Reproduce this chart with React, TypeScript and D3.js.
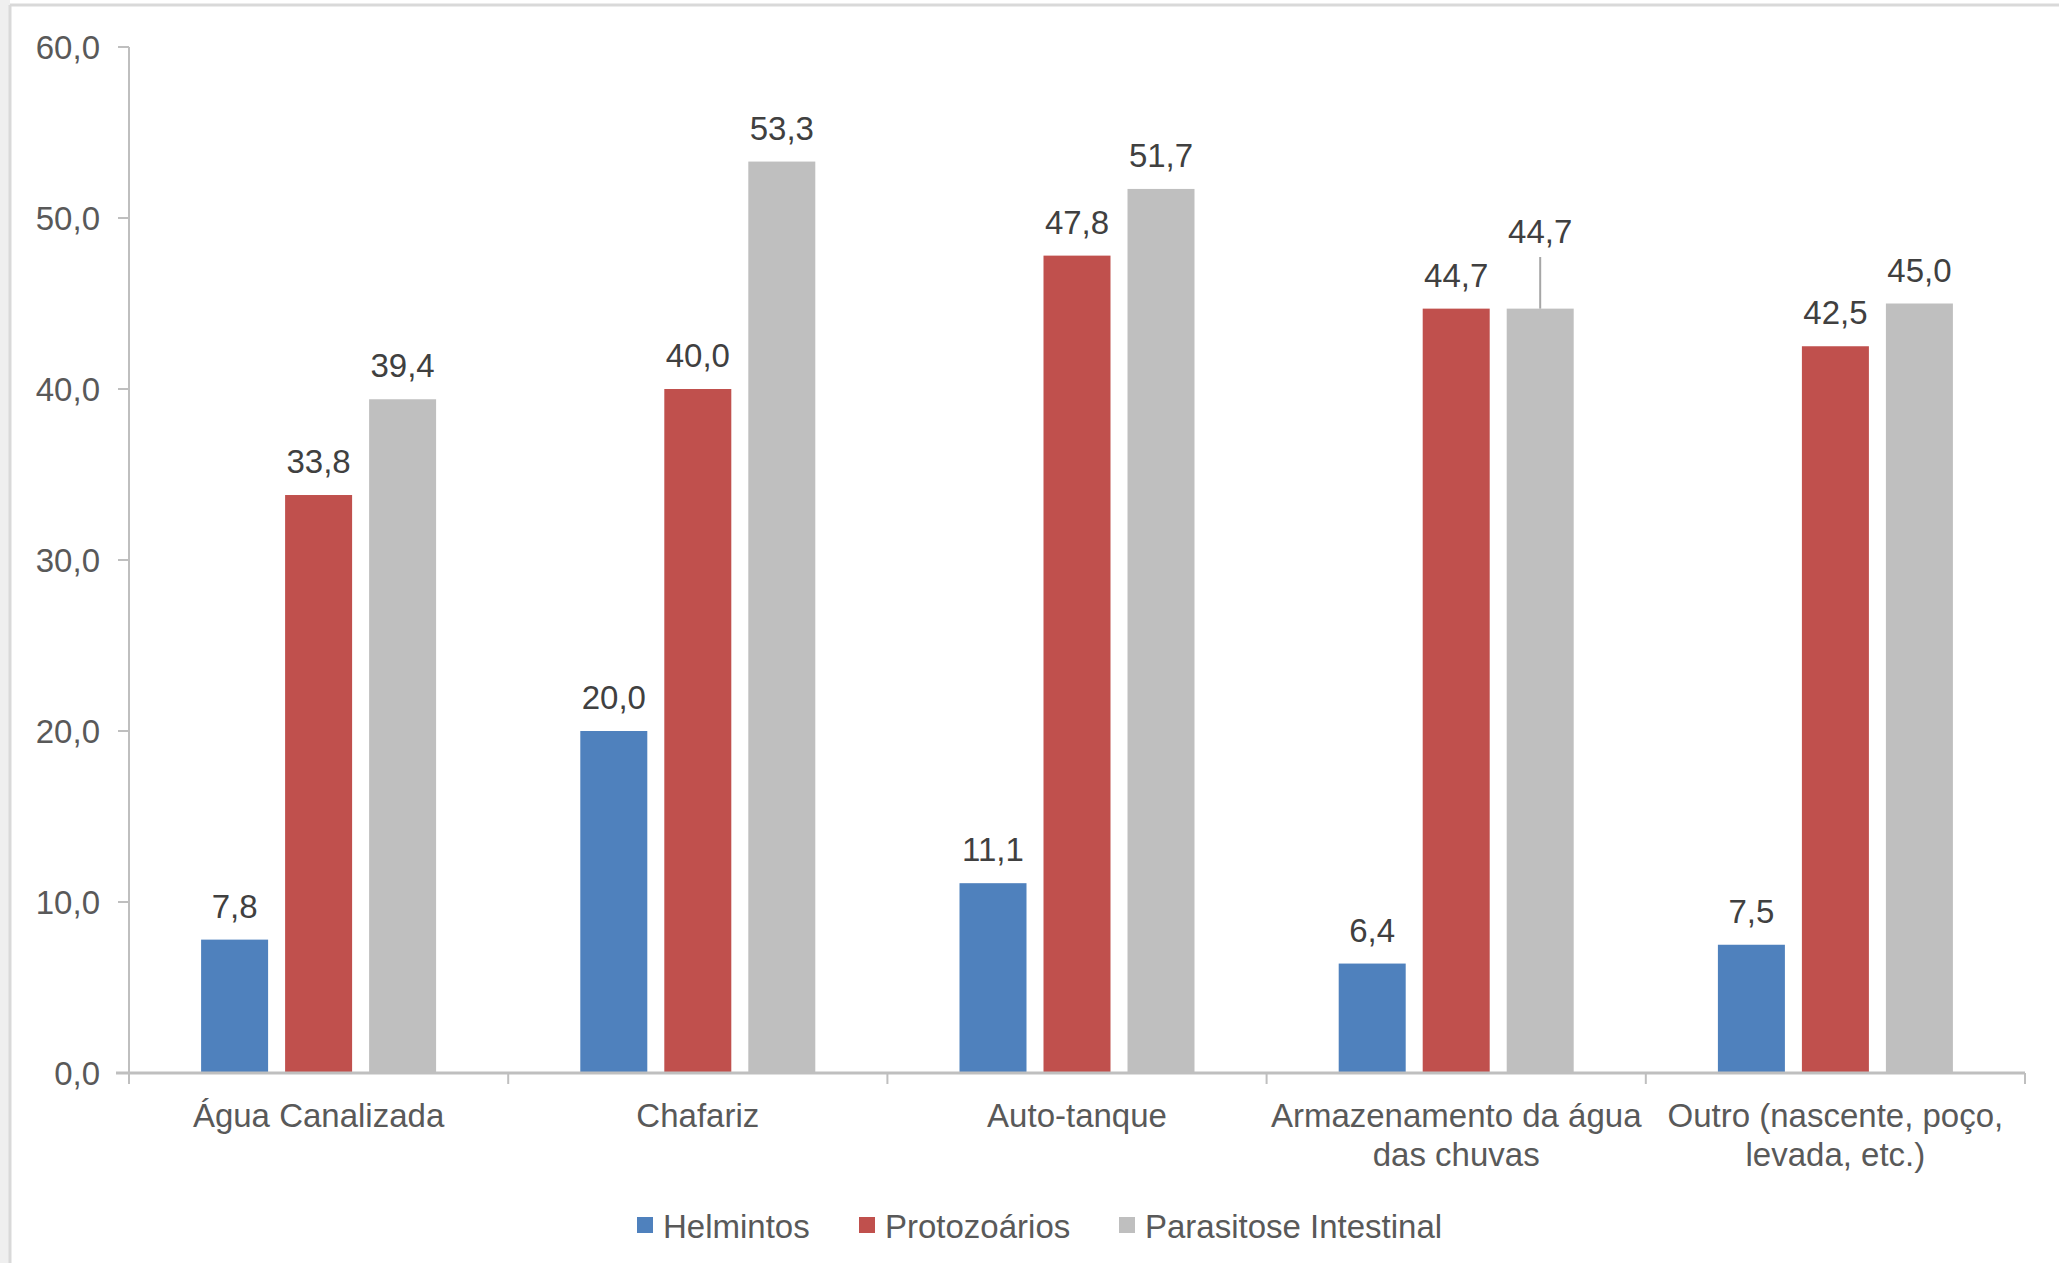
import React from "react";
import * as d3 from "d3";

const categories = [
  ["Água Canalizada"],
  ["Chafariz"],
  ["Auto-tanque"],
  ["Armazenamento da água", "das chuvas"],
  ["Outro (nascente, poço,", "levada, etc.)"],
];
const seriesNames = ["Helmintos", "Protozoários", "Parasitose Intestinal"];
const helmintos = [7.8, 20.0, 11.1, 6.4, 7.5];
const protozoarios = [33.8, 40.0, 47.8, 44.7, 42.5];
const parasitose = [39.4, 53.3, 51.7, 44.7, 45.0];
const yTicks = [0, 10, 20, 30, 40, 50, 60];
const colors = ["#4F81BD", "#C0504D", "#BFBFBF"];

const W = 2059;
const H = 1263;
const left = 129;
const right = 2025;
const top = 47;
const bottom = 1073;
const font = "'Liberation Sans', Arial, sans-serif";
const fs = 33;

export default function App() {
  const series = [helmintos, protozoarios, parasitose];
  const idx = categories.map((_, i) => i);
  const x = d3.scaleBand<number>().domain(idx).range([left, right]).paddingInner(0).paddingOuter(0);
  const y = d3.scaleLinear().domain([0, 60]).range([bottom, top]);
  const bw = 67;
  const step = 84;
  const groupW = bw * 3 + (step - bw) * 2;
  const fmt = (v: number) => v.toFixed(1).replace(".", ",");

  return (
    <svg width={W} height={H} style={{ position: "absolute", left: 0, top: 0, background: "#fff" }}>
      <rect x={0} y={0} width={10} height={H} fill="#efefef" />
      <line x1={10} y1={5} x2={W} y2={5} stroke="#d9d9d9" strokeWidth={3} />
      <line x1={10} y1={5} x2={10} y2={H} stroke="#d9d9d9" strokeWidth={3} />
      {/* y axis */}
      <line x1={left} x2={left} y1={top} y2={bottom} stroke="#BFBFBF" strokeWidth={2} />
      {yTicks.map((t) => (
        <g key={t}>
          <line x1={left - 11} x2={left} y1={y(t)} y2={y(t)} stroke="#BFBFBF" strokeWidth={2} />
          <text x={100} y={y(t)} dy="0.35em" textAnchor="end" fontFamily={font} fontSize={fs} fill="#595959">
            {fmt(t)}
          </text>
        </g>
      ))}
      {/* bars */}
      {series.map((vals, s) =>
        vals.map((v, i) => {
          const x0 = (x(i) as number) + (x.bandwidth() - groupW) / 2 + s * step;
          return <rect key={`${s}-${i}`} x={x0} y={y(v)} width={bw} height={bottom - y(v)} fill={colors[s]} />;
        })
      )}
      {/* x axis */}
      <line x1={left - 13} x2={right} y1={bottom} y2={bottom} stroke="#BFBFBF" strokeWidth={3} />
      {[...idx, idx.length].map((i) => {
        const xx = left + i * x.bandwidth();
        return <line key={i} x1={xx} x2={xx} y1={bottom} y2={bottom + 11} stroke="#BFBFBF" strokeWidth={2} />;
      })}
      {categories.map((lines, i) => (
        <text key={i} textAnchor="middle" fontFamily={font} fontSize={fs} fill="#595959">
          {lines.map((l, j) => (
            <tspan key={j} x={(x(i) as number) + x.bandwidth() / 2} y={1127 + j * 39}>
              {l}
            </tspan>
          ))}
        </text>
      ))}
      {/* data labels */}
      {series.map((vals, s) =>
        vals.map((v, i) => {
          const cx = (x(i) as number) + (x.bandwidth() - groupW) / 2 + s * step + bw / 2;
          const shifted = s === 2 && i === 3;
          const ly = y(v) - 22 - (shifted ? 44 : 0);
          return (
            <g key={`l${s}-${i}`}>
              {shifted && <line x1={cx} x2={cx} y1={257} y2={y(v)} stroke="#A6A6A6" strokeWidth={2} />}
              <text x={cx} y={ly} textAnchor="middle" fontFamily={font} fontSize={fs} fill="#404040">
                {fmt(v)}
              </text>
            </g>
          );
        })
      )}
      {/* legend */}
      {seriesNames.map((n, s) => {
        const lx = [637, 859, 1119][s];
        return (
          <g key={n}>
            <rect x={lx} y={1217} width={16} height={16} fill={colors[s]} />
            <text x={lx + 26} y={1226} dy="0.35em" fontFamily={font} fontSize={fs} fill="#595959">
              {n}
            </text>
          </g>
        );
      })}
    </svg>
  );
}
